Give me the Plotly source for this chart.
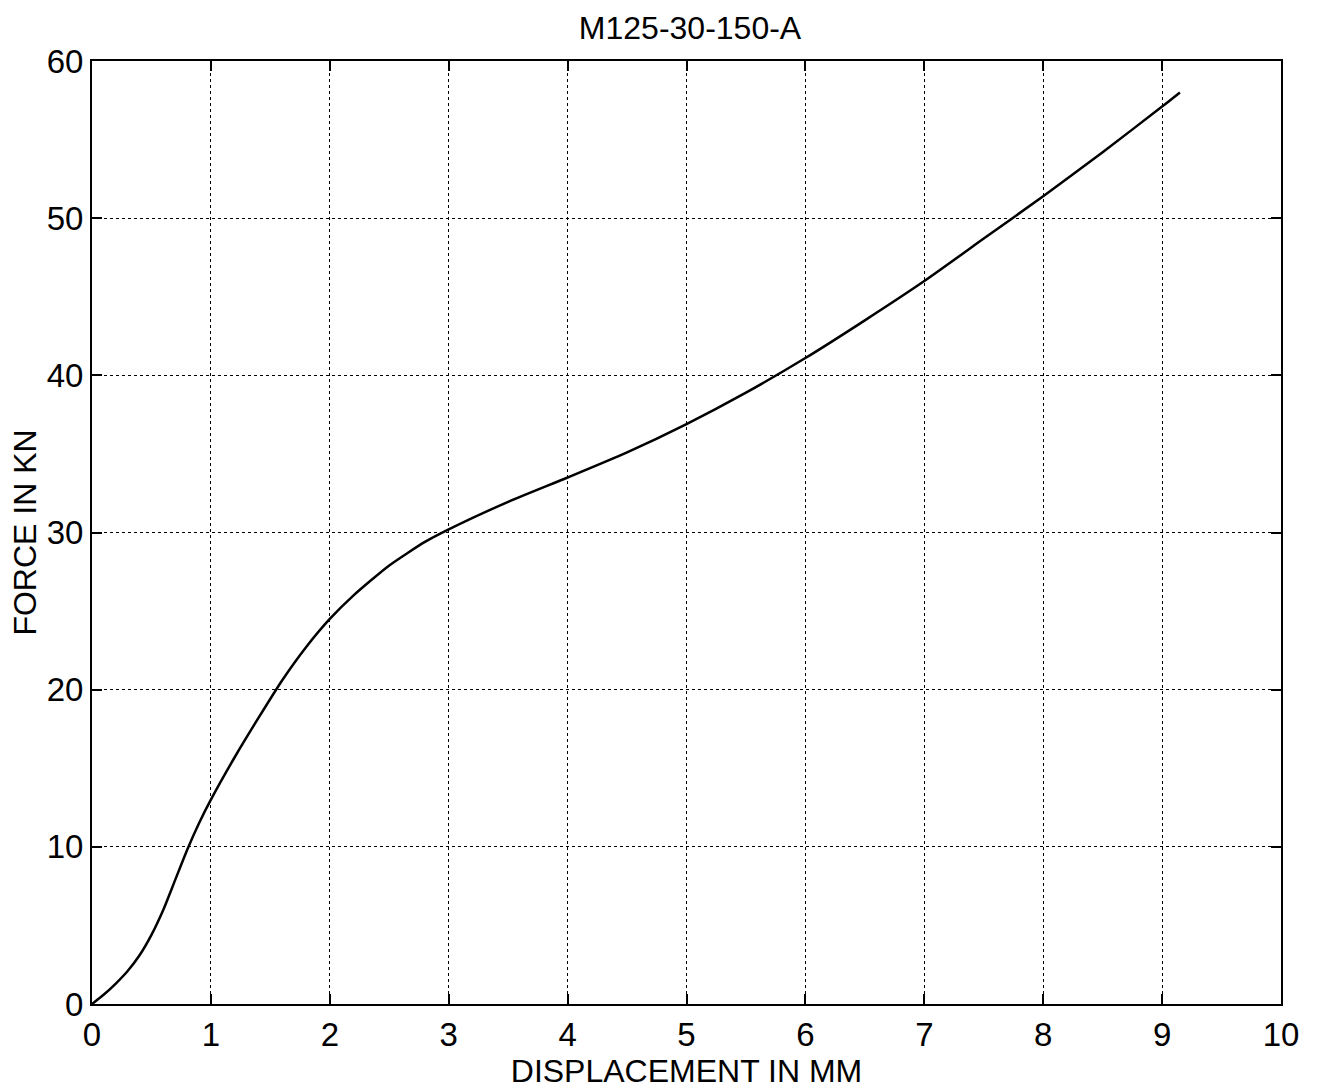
import plotly.graph_objects as go

# Data
displacement_mm = [0, 0.1, 0.2, 0.3, 0.4, 0.5, 0.6, 0.7, 0.8, 0.9, 1.0, 1.2, 1.4, 1.6, 1.8, 2.0,
                   2.2, 2.5, 2.8, 3.0, 3.5, 4.0, 4.5, 5.0, 5.5, 6.0, 6.5, 7.0, 7.5, 8.0,
                   8.5, 9.0, 9.15]
force_kn = [0, 0.6, 1.3, 2.1, 3.1, 4.4, 6.0, 7.9, 9.8, 11.5, 13.0, 15.7, 18.2, 20.6, 22.7, 24.5,
            26.0, 27.9, 29.4, 30.2, 31.95, 33.5, 35.1, 36.9, 38.9, 41.1, 43.5, 46.0, 48.7, 51.4,
            54.2, 57.1, 58.0]

x_ticks = [0, 1, 2, 3, 4, 5, 6, 7, 8, 9, 10]
y_ticks = [0, 10, 20, 30, 40, 50, 60]

FONT = "Liberation Sans, Arial, sans-serif"

fig = go.Figure()
fig.add_trace(go.Scatter(
    x=displacement_mm, y=force_kn, mode="lines",
    line=dict(color="black", width=2.5, shape="spline", smoothing=0.6),
    showlegend=False, hoverinfo="skip",
))

axis_common = dict(
    showline=True, linecolor="black", linewidth=2, mirror="allticks",
    ticks="inside", ticklen=10, tickwidth=1.5, tickcolor="black",
    showgrid=True, gridcolor="black", gridwidth=1, griddash="dot",
    zeroline=False,
    tickfont=dict(family=FONT, size=33, color="black"),
)

fig.update_layout(
    width=1318, height=1090,
    margin=dict(l=92, r=37, t=61, b=86),
    paper_bgcolor="white", plot_bgcolor="white",
    font=dict(family=FONT, color="black"),
    title=dict(text="M125-30-150-A", x=690 / 1318, xanchor="center",
               y=1 - 28 / 1090, yanchor="middle", yref="container",
               font=dict(family=FONT, size=32, color="black")),
    xaxis=dict(range=[0, 10], tickvals=x_ticks, ticktext=[str(v) for v in x_ticks],
               title=dict(text="DISPLACEMENT IN MM", font=dict(family=FONT, size=32), standoff=0),
               **axis_common),
    yaxis=dict(range=[0, 60], tickvals=y_ticks, ticktext=[str(v) for v in y_ticks],
               title=dict(text="FORCE IN KN", font=dict(family=FONT, size=32), standoff=0),
               **axis_common),
)

fig.write_html("out.html")
